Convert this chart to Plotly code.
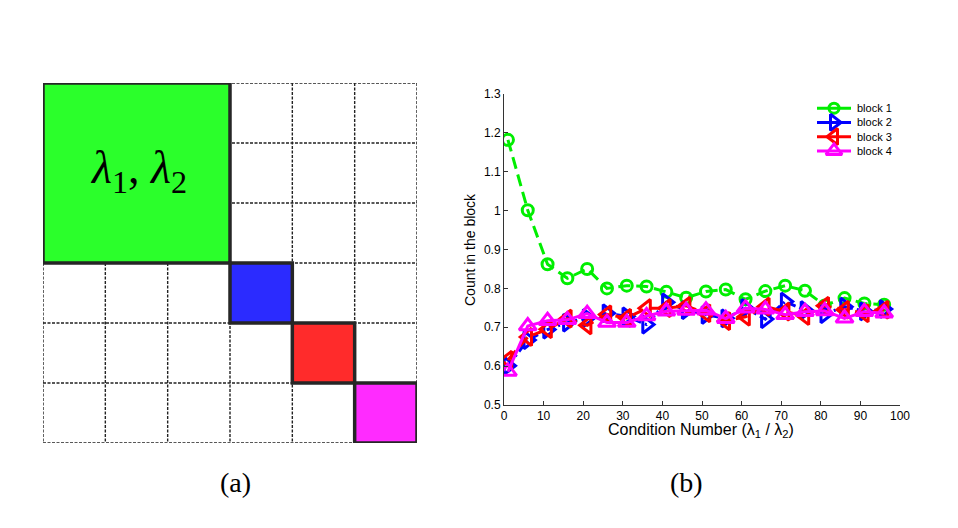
import plotly.graph_objects as go

# ---------------- data ----------------
cond_number = [1, 6, 11, 16, 21, 26, 31, 36, 41, 46, 51, 56, 61, 66, 71, 76, 81, 86, 91, 96]
block1 = [1.182, 1.001, 0.862, 0.826, 0.850, 0.800, 0.807, 0.805, 0.791, 0.776, 0.792, 0.797, 0.772, 0.793, 0.807, 0.794, 0.756, 0.775, 0.761, 0.758]
block2 = [0.601, 0.667, 0.694, 0.712, 0.724, 0.736, 0.728, 0.707, 0.764, 0.744, 0.732, 0.723, 0.749, 0.721, 0.766, 0.744, 0.734, 0.753, 0.741, 0.747]
block3 = [0.616, 0.675, 0.695, 0.722, 0.705, 0.733, 0.724, 0.749, 0.749, 0.755, 0.736, 0.716, 0.727, 0.753, 0.740, 0.729, 0.755, 0.745, 0.736, 0.745]
block4 = [0.586, 0.703, 0.717, 0.719, 0.735, 0.712, 0.712, 0.729, 0.741, 0.743, 0.744, 0.722, 0.749, 0.746, 0.732, 0.740, 0.742, 0.723, 0.740, 0.736]
series_names = ["block 1", "block 2", "block 3", "block 4"]
x_ticks = [0, 10, 20, 30, 40, 50, 60, 70, 80, 90, 100]
y_ticks = [0.5, 0.6, 0.7, 0.8, 0.9, 1.0, 1.1, 1.2, 1.3]
y_tick_labels = ["0.5", "0.6", "0.7", "0.8", "0.9", "1", "1.1", "1.2", "1.3"]

# block diagram (panel a)
grid_n = 6
block_sizes = [3, 1, 1, 1]
block_colors = ["#2bff2b", "#2b2bff", "#ff2b2b", "#ff2bff"]

# ---------------- figure ----------------
fig = go.Figure()

colors = ["#00ee00", "#0000ff", "#ff0000", "#ff00ff"]
symbols = ["circle-open", "triangle-right-open", "triangle-left-open", "triangle-up-open"]
dashes = ["12px,6px", "8px,4px,2px,4px", "12px,6px", "solid"]
sizes = [11, 15, 15, 15]
all_series = [block1, block2, block3, block4]
for vals, name, c, s, d, sz in zip(all_series, series_names, colors, symbols, dashes, sizes):
    fig.add_trace(go.Scatter(
        x=cond_number, y=vals, name=name, mode="lines+markers",
        line=dict(color=c, width=3, dash=d),
        marker=dict(symbol=s, size=sz, color=c, line=dict(width=3, color=c)),
        xaxis="x", yaxis="y", showlegend=False,
    ))

# manual legend (compact, MATLAB-like); x3 units: sample line spans 0..34, text starts at 38
legend_annotations = []
for i, (name, c, s, sz) in enumerate(zip(series_names, colors, symbols, sizes)):
    fig.add_trace(go.Scatter(
        x=[0, 17, 34], y=[i, i, i], mode="lines", line=dict(color=c, width=3),
        xaxis="x3", yaxis="y3", showlegend=False, hoverinfo="skip"))
    fig.add_trace(go.Scatter(
        x=[17], y=[i], mode="markers",
        marker=dict(symbol=s, size=sz - 1, color=c, line=dict(width=3, color=c)),
        xaxis="x3", yaxis="y3", showlegend=False, hoverinfo="skip"))
    legend_annotations.append(dict(
        xref="x3", yref="y3", x=38, y=i, text=name, showarrow=False,
        xanchor="left", yanchor="middle",
        font=dict(family="Liberation Sans", size=11, color="black")))

# panel (a): grid lines
shapes = []
for i in range(grid_n + 1):
    shapes.append(dict(type="line", xref="x2", yref="y2", x0=i, x1=i, y0=0, y1=grid_n,
                       line=dict(color="#222222", width=1.4, dash="3px,1.5px")))
    shapes.append(dict(type="line", xref="x2", yref="y2", x0=0, x1=grid_n, y0=i, y1=i,
                       line=dict(color="#222222", width=1.4, dash="3px,1.5px")))
start = 0
for size, col in zip(block_sizes, block_colors):
    shapes.append(dict(type="rect", xref="x2", yref="y2", x0=start, x1=start + size,
                       y0=start, y1=start + size, fillcolor=col,
                       line=dict(color="#262626", width=3.5), layer="above"))
    start += size

annotations = [
    dict(xref="x2", yref="y2", x=block_sizes[0] / 2 + 0.04, y=block_sizes[0] / 2 - 0.03,
         text="<i>λ</i><sub>1</sub>, <i>λ</i><sub>2</sub>", showarrow=False,
         xanchor="center", yanchor="middle",
         font=dict(family="Liberation Serif", size=46, color="black")),
    dict(xref="paper", yref="paper", x=235 / 958, y=1 - 482 / 528, text="(a)", showarrow=False,
         xanchor="center", yanchor="middle",
         font=dict(family="Liberation Serif", size=28, color="black")),
    dict(xref="paper", yref="paper", x=686 / 958, y=1 - 482 / 528, text="(b)", showarrow=False,
         xanchor="center", yanchor="middle",
         font=dict(family="Liberation Serif", size=28, color="black")),
    dict(xref="paper", yref="paper", x=701 / 958, y=1 - 430 / 528,
         text="Condition Number (λ<sub>1</sub> / λ<sub>2</sub>)", showarrow=False,
         xanchor="center", yanchor="middle",
         font=dict(family="Liberation Sans", size=16, color="black")),
    dict(xref="paper", yref="paper", x=470 / 958, y=1 - 250 / 528,
         text="Count in the block", textangle=-90, showarrow=False,
         xanchor="center", yanchor="middle",
         font=dict(family="Liberation Sans", size=14, color="black")),
] + legend_annotations

fig.update_layout(
    width=958, height=528, autosize=False,
    margin=dict(l=0, r=0, t=0, b=0, pad=0),
    paper_bgcolor="white", plot_bgcolor="rgba(0,0,0,0)",
    showlegend=False,
    xaxis=dict(domain=[504 / 958, 900 / 958], range=[0, 100], tickvals=x_ticks,
               ticks="inside", ticklen=4, tickcolor="#333333", showline=True, linecolor="#333333", linewidth=1,
               showgrid=False, zeroline=False, mirror=False, automargin=False,
               tickfont=dict(family="Liberation Sans", size=12, color="black"), anchor="y"),
    yaxis=dict(domain=[1 - 405 / 528, 1 - 94 / 528], range=[0.5, 1.3], tickvals=y_ticks,
               ticktext=y_tick_labels, ticks="inside", ticklen=4, tickcolor="#333333", showline=True,
               linecolor="#333333", linewidth=1, showgrid=False, zeroline=False, automargin=False,
               tickfont=dict(family="Liberation Sans", size=12, color="black"), anchor="x"),
    xaxis2=dict(domain=[43 / 958, 417 / 958], range=[0, grid_n], visible=False, anchor="y2", automargin=False),
    yaxis2=dict(domain=[1 - 443 / 528, 1 - 83 / 528], range=[grid_n, 0], visible=False, anchor="x2", automargin=False),
    xaxis3=dict(domain=[817 / 958, 917 / 958], range=[0, 100], visible=False, anchor="y3", automargin=False),
    yaxis3=dict(domain=[1 - 158 / 528, 1 - 101 / 528], range=[3.5, -0.5], visible=False, anchor="x3", automargin=False),
    shapes=shapes,
    annotations=annotations,
)

fig.write_html("out.html", config={"displayModeBar": False},
               post_script="document.body.style.margin='0';")
